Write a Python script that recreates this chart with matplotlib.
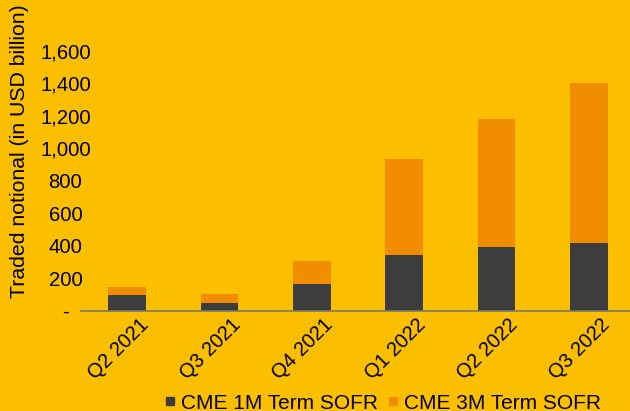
import matplotlib
matplotlib.use('AGG')
import matplotlib.pyplot as plt
import matplotlib.transforms as mtransforms
from matplotlib.lines import Line2D
from matplotlib.ticker import FuncFormatter

# Data (USD billion)
quarters = ['Q2 2021', 'Q3 2021', 'Q4 2021', 'Q1 2022', 'Q2 2022', 'Q3 2022']
term_1m = [97, 47, 164, 343, 392, 417]
term_3m = [51, 56, 142, 591, 788, 984]
series_names = ['CME 1M Term SOFR', 'CME 3M Term SOFR']

bg = '#FCBF00'
dark = '#3D3D3D'
orange = '#F28C00'

plt.rcParams['font.family'] = ['Liberation Sans', 'DejaVu Sans']

fig = plt.figure(figsize=(6.3, 4.11), dpi=100, facecolor=bg)
W, H = 630, 411
# axes box in pixels: left 81, bottom at y=310.7, top at y=50.7, right past the edge
ax = fig.add_axes([81 / W, (H - 310.7) / H, 554 / W, 260 / H])
ax.set_facecolor(bg)

x = range(len(quarters))
ax.bar(x, term_1m, width=0.41, color=dark, label=series_names[0])
ax.bar(x, term_3m, width=0.41, bottom=term_1m, color=orange, label=series_names[1])

ax.set_xlim(-0.5, 5.5)
ax.set_ylim(0, 1600)
ax.set_yticks(range(0, 1601, 200))
ax.yaxis.set_major_formatter(FuncFormatter(lambda v, p: '-' if v == 0 else f'{v:,.0f}'))

for s in ['top', 'right', 'left']:
    ax.spines[s].set_visible(False)
ax.spines['bottom'].set_color('#7a7a6a')
ax.spines['bottom'].set_linewidth(1.2)

ax.tick_params(axis='y', length=0, pad=11.2, labelsize=14.6)
for lab in ax.get_yticklabels():
    lab.set_horizontalalignment('center')

ax.set_xticks(list(x))
ax.set_xticklabels(quarters, rotation=45, ha='right', va='top', fontsize=14.5)
ax.tick_params(axis='x', length=0, pad=3)
offset = mtransforms.ScaledTranslation(25 / 100, 0, fig.dpi_scale_trans)
for lab in ax.get_xticklabels():
    lab.set_transform(lab.get_transform() + offset)

fig.text(20 / W, 1 - 151 / H, 'Traded notional (in USD billion)', rotation=90,
         ha='center', va='center', fontsize=15.3)

handles = [Line2D([], [], marker='s', linestyle='none', markersize=5.5, color=dark),
           Line2D([], [], marker='s', linestyle='none', markersize=5.5, color=orange)]
fig.legend(handles, series_names, loc='center', bbox_to_anchor=(383 / W, 1 - 403 / H),
           ncol=2, frameon=False, fontsize=15, handlelength=0.5, handletextpad=0.3,
           columnspacing=0.45, borderpad=0)

fig.savefig('out.png', dpi=100, facecolor=bg)
